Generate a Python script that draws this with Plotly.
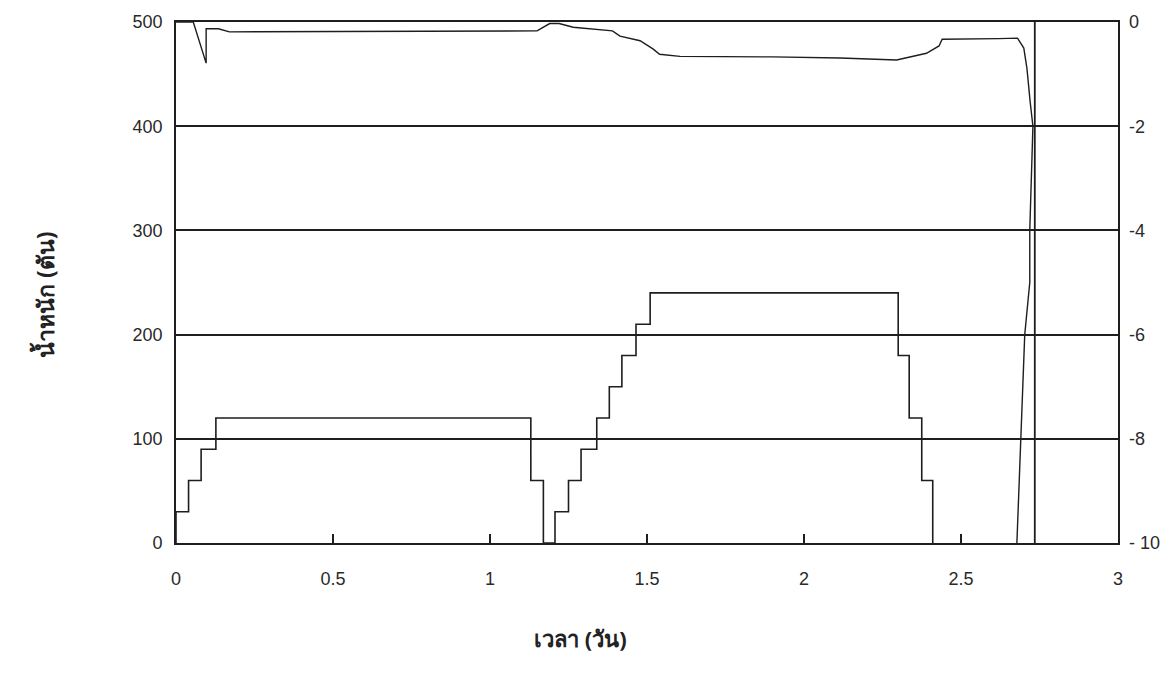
import plotly.graph_objects as go

# Weight (left axis, tonnes) - step series
step_t = [0, 0, 0.04, 0.08, 0.127, 1.13, 1.17, 1.207, 1.25, 1.29, 1.34, 1.38, 1.42, 1.465, 1.51, 2.30, 2.335, 2.375, 2.41, 2.41]
step_w = [0, 30, 60, 90, 120, 60, 0, 30, 60, 90, 120, 150, 180, 210, 240, 180, 120, 60, 0, 0]

# Right-axis series (0 .. -10)
curve_t = [0, 0.055, 0.096, 0.096, 0.135, 0.17, 1.15, 1.19, 1.22, 1.265, 1.39, 1.414, 1.478, 1.52, 1.54,
           1.605, 1.90, 2.115, 2.295, 2.35, 2.39, 2.43, 2.44, 2.62, 2.68, 2.70, 2.71, 2.72, 2.729,
           2.719, 2.719, 2.703, 2.69, 2.678]
curve_v = [0, 0, -0.79, -0.13, -0.13, -0.19, -0.17, -0.03, -0.03, -0.10, -0.17, -0.27, -0.36, -0.52, -0.62,
           -0.66, -0.67, -0.69, -0.73, -0.65, -0.60, -0.46, -0.33, -0.32, -0.31, -0.50, -0.89, -1.52, -2.0,
           -4.0, -5.0, -6.0, -8.0, -10.0]

# Vertical marker line
vline_t = [2.735, 2.735]
vline_w = [0, 500]

x_ticks = [0, 0.5, 1, 1.5, 2, 2.5, 3]
x_tick_text = ["0", "0.5", "1", "1.5", "2", "2.5", "3"]
y_ticks = [0, 100, 200, 300, 400, 500]
y2_ticks = [0, -2, -4, -6, -8, -10]
y2_tick_text = ["0", "-2", "-4", "-6", "-8", "- 10"]

ink = "#1e1e1e"

fig = go.Figure()
fig.add_trace(go.Scatter(x=step_t, y=step_w, mode="lines", line=dict(color=ink, width=1.6, shape="hv"),
                         showlegend=False, hoverinfo="skip"))
fig.add_trace(go.Scatter(x=vline_t, y=vline_w, mode="lines", line=dict(color=ink, width=1.8),
                         showlegend=False, hoverinfo="skip"))
fig.add_trace(go.Scatter(x=curve_t, y=curve_v, mode="lines", line=dict(color=ink, width=1.4),
                         yaxis="y2", showlegend=False, hoverinfo="skip"))

tickfont = dict(family="Liberation Sans, Arial, sans-serif", size=18, color="#2a2a2a")

fig.update_layout(
    width=1172, height=681,
    margin=dict(l=176, r=54, t=22, b=138),
    paper_bgcolor="white", plot_bgcolor="white",
    xaxis=dict(range=[0, 3], tickvals=x_ticks, ticktext=x_tick_text, ticks="inside", ticklen=9,
               tickwidth=1.5, tickcolor=ink, showgrid=False, zeroline=False, showline=True,
               linecolor=ink, linewidth=1.8, mirror=True, tickfont=tickfont, ticklabelstandoff=18),
    yaxis=dict(range=[0, 500], tickvals=y_ticks, showgrid=True, gridcolor=ink, gridwidth=1.5,
               zeroline=False, showline=True, linecolor=ink, linewidth=1.8, mirror=True,
               ticks="", tickfont=tickfont, ticklabelstandoff=8),
    yaxis2=dict(range=[-10, 0], tickvals=y2_ticks, ticktext=y2_tick_text, overlaying="y", side="right",
                showgrid=False, zeroline=False, showline=False, ticks="", tickfont=tickfont,
                ticklabelstandoff=10),
    annotations=[
        dict(text="<b>เวลา (วัน)</b>", x=580, y=681 - 638, xref="paper", yref="paper",
             showarrow=False, font=dict(size=22, color="#222"), xanchor="center", yanchor="middle"),
        dict(text="<b>น้ำหนัก (ตัน)</b>", x=45, y=681 - 295, xref="paper", yref="paper",
             showarrow=False, textangle=-90, font=dict(size=23, color="#222"),
             xanchor="center", yanchor="middle"),
    ],
)

# convert pixel positions of the two title annotations into paper coordinates
pw = 1172 - 176 - 54
ph = 681 - 22 - 138
for a in fig.layout.annotations:
    a.x = (a.x - 176) / pw
    a.y = (a.y - 138) / ph

fig.write_html("out.html")
